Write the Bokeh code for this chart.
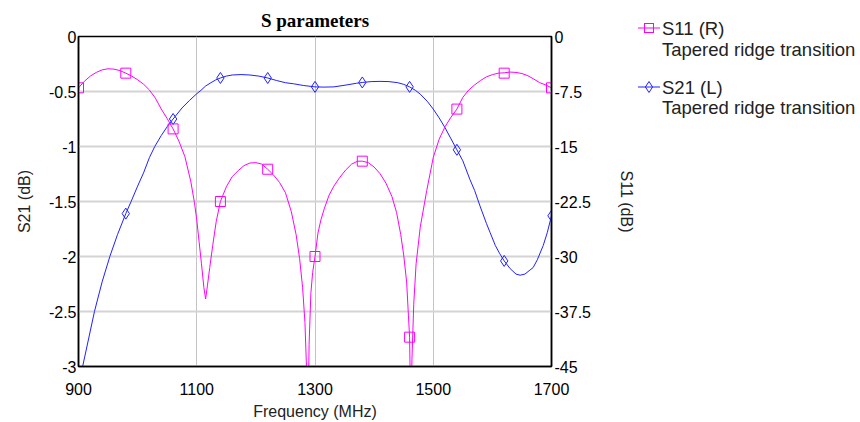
from bokeh.plotting import figure
from bokeh.models import Range1d, LinearAxis, FixedTicker, Div
from bokeh.layouts import row
from bokeh.embed import file_html
from bokeh.resources import INLINE

# ---------------- data ----------------
freq_s11 = [900, 910, 920, 930, 940, 950, 960, 970, 980, 990, 1000, 1010, 1020, 1030,
            1040, 1050, 1060, 1070, 1080, 1090, 1096, 1100, 1104, 1108, 1112, 1115, 1118,
            1122, 1127, 1133, 1140, 1150, 1160, 1170, 1180, 1190, 1200, 1210, 1220, 1230,
            1240, 1250, 1260, 1268, 1274, 1279, 1283, 1286, 1288, 1290, 1293, 1296, 1300,
            1305, 1310, 1316, 1324, 1332, 1342, 1352, 1362, 1372, 1380, 1390, 1400, 1410,
            1420, 1430, 1438, 1445, 1450, 1455, 1458, 1460, 1462, 1464, 1467, 1471, 1478,
            1489, 1500, 1510, 1520, 1530, 1540, 1550, 1560, 1570, 1580, 1590, 1600, 1610,
            1620, 1630, 1640, 1650, 1660, 1670, 1680, 1690, 1700]
s11_db = [-7.0, -6.1, -5.4, -4.9, -4.55, -4.4, -4.45, -4.65, -5.0, -5.4, -5.9, -6.5, -7.3, -8.4,
          -9.9, -11.2, -12.6, -14.3, -16.4, -19.8, -22.6, -25.0, -28.0, -31.0, -34.2, -35.8, -34.0,
          -31.5, -28.5, -25.2, -22.5, -20.5, -19.1, -18.3, -17.6, -17.25, -17.2, -17.4, -18.1, -18.9,
          -19.9, -21.3, -23.9, -27.0, -30.3, -34.2, -39.0, -46.0, -55.0, -42.0, -35.0, -32.2, -30.0,
          -26.8, -25.0, -23.4, -21.6, -20.4, -19.2, -18.2, -17.4, -17.0, -17.0, -17.2, -17.8, -18.7,
          -20.0, -21.8, -24.0, -27.0, -29.8, -33.5, -38.0, -41.0, -52.0, -44.0, -36.5, -31.0, -26.0,
          -21.0, -16.5, -14.0, -12.3, -11.0, -9.9, -8.3, -7.3, -6.6, -6.0, -5.5, -5.2, -5.0,
          -4.95, -4.85, -4.9, -5.05, -5.35, -5.8, -6.3, -6.6, -7.0]

freq_s21 = [900, 907, 917, 927, 940, 953, 966, 980, 989, 1000, 1010, 1020, 1029, 1040, 1050,
            1060, 1075, 1088, 1100, 1107, 1115, 1124, 1132, 1140, 1150, 1160, 1175, 1190, 1205,
            1220, 1235, 1250, 1264, 1280, 1300, 1315, 1332, 1354, 1370, 1380, 1395, 1410, 1425,
            1440, 1450, 1460, 1470, 1478, 1490, 1500, 1510, 1520, 1530, 1540, 1550, 1562, 1570,
            1579, 1590, 1596, 1605, 1612, 1620, 1630, 1640, 1647, 1655, 1662, 1669, 1676, 1686,
            1693, 1700]
s21_db = [-3.17, -3.0, -2.75, -2.5, -2.23, -2.0, -1.8, -1.61, -1.5, -1.36, -1.24, -1.1, -1.0, -0.9, -0.82,
          -0.75, -0.65, -0.58, -0.52, -0.49, -0.45, -0.42, -0.395, -0.377, -0.36, -0.35, -0.346, -0.35, -0.36,
          -0.377, -0.4, -0.42, -0.43, -0.445, -0.458, -0.46, -0.458, -0.44, -0.425, -0.418, -0.41, -0.408, -0.41,
          -0.42, -0.435, -0.458, -0.49, -0.524, -0.59, -0.66, -0.74, -0.83, -0.93, -1.03, -1.13, -1.3, -1.4,
          -1.54, -1.7, -1.78, -1.9, -1.97, -2.04, -2.11, -2.16, -2.17, -2.16, -2.13, -2.1, -2.03, -1.9,
          -1.78, -1.63]

marker_freq = [900, 980, 1060, 1140, 1220, 1300, 1380, 1460, 1540, 1620, 1700]
s11_marker_db = [-7.0, -5.0, -12.6, -22.5, -18.1, -30.0, -17.0, -41.0, -9.9, -5.0, -7.0]
s21_marker_db = [-3.17, -1.61, -0.75, -0.377, -0.377, -0.458, -0.418, -0.458, -1.03, -2.04, -1.63]

x_ticks = [900, 1100, 1300, 1500, 1700]
left_ticks = [0.0, -0.5, -1.0, -1.5, -2.0, -2.5, -3.0]
left_tick_labels = ["0", "-0.5", "-1", "-1.5", "-2", "-2.5", "-3"]
right_ticks = [0.0, -7.5, -15.0, -22.5, -30.0, -37.5, -45.0]
right_tick_labels = ["0", "-7.5", "-15", "-22.5", "-30", "-37.5", "-45"]

title_text = "S parameters"
x_label = "Frequency (MHz)"
left_label = "S21 (dB)"
right_label = "S11 (dB)"
s11_name = "S11 (R)"
s21_name = "S21 (L)"
subtitle = "Tapered ridge transition"

# ---------------- styles ----------------
S11_COLOR = "#ff00ff"
S21_COLOR = "#2020ff"
FONT = "Liberation Sans"
H = 422
PW = 638

p = figure(width=PW, height=H,
           x_range=Range1d(900, 1700), y_range=Range1d(-3, 0),
           output_backend="svg", toolbar_location=None,
           min_border_left=78, min_border_right=87,
           min_border_top=36, min_border_bottom=54,
           title=title_text)
p.extra_y_ranges = {"s11": Range1d(-45, 0)}

p.title.align = "center"
p.title.text_font = "Liberation Serif"
p.title.text_font_size = "19px"
p.title.text_font_style = "bold"
p.title.text_color = "black"
p.title.standoff = 11

p.background_fill_color = "white"
p.border_fill_color = "white"
p.outline_line_color = "black"
p.outline_line_width = 1.5
p.outline_line_alpha = 1.0

# grids
p.xgrid.ticker = FixedTicker(ticks=x_ticks)
p.ygrid.ticker = FixedTicker(ticks=left_ticks)
p.xgrid.grid_line_color = "#c4c4c4"
p.xgrid.grid_line_width = 1
p.ygrid.grid_line_color = "#d4d4d4"
p.ygrid.grid_line_width = 2

def style_axis(ax):
    ax.major_tick_line_color = None
    ax.minor_tick_line_color = None
    ax.major_tick_out = 0
    ax.major_tick_in = 0
    ax.minor_tick_out = 0
    ax.minor_tick_in = 0
    ax.axis_line_color = "black"
    ax.axis_line_width = 1.5
    ax.major_label_text_font = FONT
    ax.major_label_text_font_size = "16px"
    ax.major_label_text_color = "black"
    ax.axis_label_text_font = FONT
    ax.axis_label_text_font_size = "16px"
    ax.axis_label_text_font_style = "normal"
    ax.axis_label_text_color = "#222222"

xax = p.xaxis[0]
style_axis(xax)
xax.ticker = FixedTicker(ticks=x_ticks)
xax.axis_label = x_label
xax.major_label_standoff = 16
xax.axis_label_standoff = 5

lax = p.yaxis[0]
style_axis(lax)
lax.ticker = FixedTicker(ticks=left_ticks)
lax.major_label_overrides = {t: l for t, l in zip(left_ticks, left_tick_labels)}
lax.axis_label = left_label
lax.major_label_standoff = 2
lax.axis_label_standoff = 13

rax = LinearAxis(y_range_name="s11")
style_axis(rax)
rax.ticker = FixedTicker(ticks=right_ticks)
rax.major_label_overrides = {t: l for t, l in zip(right_ticks, right_tick_labels)}
rax.axis_label = right_label
rax.major_label_standoff = 3
rax.axis_label_standoff = 24
p.add_layout(rax, "right")

# ---------------- data marks ----------------
p.line(freq_s21, s21_db, line_color=S21_COLOR, line_width=1)
p.scatter(marker_freq, s21_marker_db, marker="diamond", size=11,
          fill_color=None, line_color=S21_COLOR, line_width=1)

p.line(freq_s11, s11_db, line_color=S11_COLOR, line_width=1, y_range_name="s11")
p.scatter(marker_freq, s11_marker_db, marker="square", size=10,
          fill_color=None, line_color=S11_COLOR, line_width=1, y_range_name="s11")

# ---------------- legend (HTML panel to the right of the plot) ----------------
def glyph_svg(color, shape, top):
    if shape == "square":
        mark = f'<rect x="6.5" y="2.5" width="9" height="9" fill="none" stroke="{color}" stroke-width="1"/>'
    else:
        mark = f'<polygon points="11,1.5 14.6,7 11,12.5 7.4,7" fill="none" stroke="{color}" stroke-width="1"/>'
    return (f'<svg style="position:absolute;left:0px;top:{top}px" width="22" height="14">'
            f'<line x1="0" y1="7" x2="22" y2="7" stroke="{color}" stroke-width="1"/>{mark}</svg>')

def text_div(txt, top):
    return (f'<div style="position:absolute;left:24px;top:{top}px;white-space:nowrap;'
            f'line-height:21px;">{txt}</div>')

legend_html = (
    f'<div style="position:relative;width:{860 - PW}px;height:{H}px;font-family:\'{FONT}\',Arial,sans-serif;'
    f'font-size:18.5px;color:#222222;">'
    + glyph_svg(S11_COLOR, "square", 21) + text_div(s11_name, 17.5) + text_div(subtitle, 38.5)
    + glyph_svg(S21_COLOR, "diamond", 80) + text_div(s21_name, 76.5) + text_div(subtitle, 96.5)
    + '</div>'
)
legend_div = Div(text=legend_html, width=860 - PW, height=H, margin=0)

layout = row(p, legend_div, spacing=0)
open("out.html", "w").write(file_html(layout, INLINE))
